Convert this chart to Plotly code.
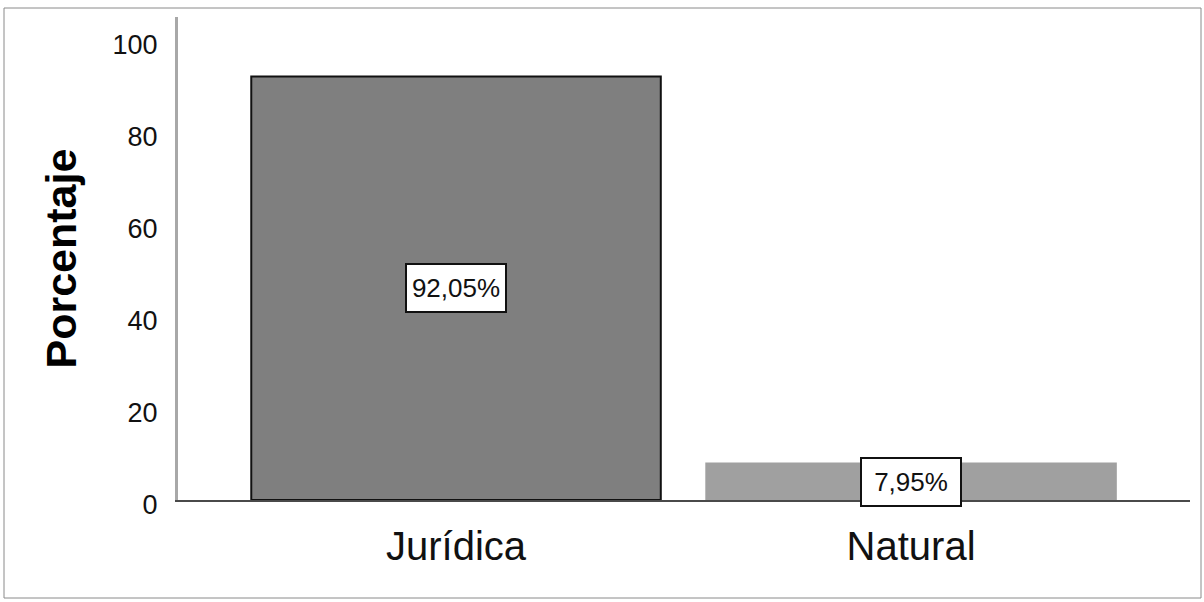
import plotly.graph_objects as go

# data
categorias = ["Jurídica", "Natural"]
porcentajes = [92.05, 7.95]
etiquetas = ["92,05%", "7,95%"]
colores = ["#7f7f7f", "#a0a0a0"]
bordes = ["#111111", "#a0a0a0"]
y_ticks = [0, 20, 40, 60, 80, 100]

FONT = "Liberation Sans, Arial"

# plot area in pixels
W, H = 1204, 602
L, R, T, B = 178, 14, 17, 102
pw, ph = W - L - R, H - T - B


def px_x(p):
        return (p - L) / pw


def px_y(p):
        return (H - B - p) / ph


fig = go.Figure()
fig.add_trace(go.Bar(
        x=categorias,
        y=porcentajes,
        width=0.9,
        marker=dict(color=colores, line=dict(color=bordes, width=2)),
        hoverinfo="skip",
))

# value labels, white boxes in the middle of each bar
for cat, val, txt in zip(categorias, porcentajes, etiquetas):
        fig.add_annotation(
                x=cat, y=val / 2, text=txt, showarrow=False,
                font=dict(family=FONT, size=26, color="#111111"),
                width=96, height=44,
                bgcolor="white", bordercolor="#111111", borderwidth=2, borderpad=1,
        )

# y axis title
fig.add_annotation(
        x=px_x(60), y=0.5, xref="paper", yref="paper", text="<b>Porcentaje</b>",
        textangle=-90, showarrow=False, xanchor="center", yanchor="middle",
        font=dict(family=FONT, size=43, color="#000000"),
)

# outer frame
fig.add_shape(
        type="rect", xref="paper", yref="paper",
        x0=px_x(4), x1=px_x(1201), y0=px_y(598), y1=px_y(8),
        line=dict(color="#8a8a8a", width=1), fillcolor="rgba(0,0,0,0)", layer="below",
)

fig.update_layout(
        width=W, height=H,
        margin=dict(l=L, r=R, t=T, b=B, pad=0),
        paper_bgcolor="white", plot_bgcolor="white",
        showlegend=False,
        xaxis=dict(
                type="category", range=[-0.611, 1.613],
                showline=True, linecolor="#4a4a4a", linewidth=2,
                showgrid=False, zeroline=False, ticks="",
                ticklabelstandoff=10,
                tickfont=dict(family=FONT, size=40, color="#111111"),
        ),
        yaxis=dict(
                range=[0, 105], tickvals=y_ticks,
                showline=True, linecolor="#a8a8a8", linewidth=3,
                showgrid=False, zeroline=False, ticks="",
                ticklabelstandoff=12, ticklabelshift=5,
                tickfont=dict(family=FONT, size=27, color="#111111"),
        ),
)

# the page has a default body margin, drop it so the chart sits at 0,0
fig.write_html("out.html", config={"displayModeBar": False},
               post_script="document.body.style.margin='0';")
